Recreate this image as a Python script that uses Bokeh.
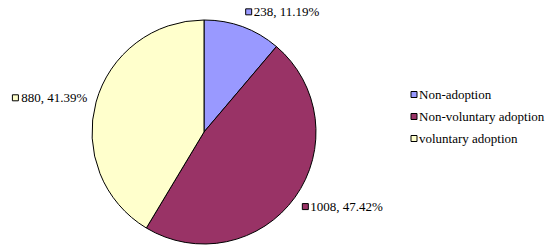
import math
from bokeh.plotting import figure
from bokeh.models import Range1d, Label
from bokeh.embed import file_html
from bokeh.resources import INLINE

categories = ["Non-adoption", "Non-voluntary adoption", "voluntary adoption"]
counts = [238, 1008, 880]
percents = [11.19, 47.42, 41.39]
colors = ["#9999FF", "#993366", "#FFFFCC"]

W, H = 550, 251
FONT = "Liberation Serif"
FSIZE = "13px"
p = figure(width=W, height=H, output_backend="svg", toolbar_location=None,
           x_range=Range1d(0, W), y_range=Range1d(0, H),
           x_axis_location=None, y_axis_location=None, min_border=0)
p.grid.visible = False
p.outline_line_color = None
p.background_fill_color = "white"
p.border_fill_color = "white"

cx, cy, r = 203.5, 119.5, 112
total = sum(counts)
start = math.pi / 2
starts, ends, mids = [], [], []
for c in counts:
    a = c / total * 2 * math.pi
    starts.append(start)
    ends.append(start - a)
    mids.append(start - a / 2)
    start -= a

p.wedge(x=cx, y=cy, radius=r, start_angle=starts, end_angle=ends,
        direction="clock", fill_color=colors, line_color="black", line_width=1)

# data labels (box edge placed just outside the pie along each slice's mid-angle)
rx, ry = 121, 128
sq = 6
for c, pc, col, m in zip(counts, percents, colors, mids):
    txt = f"{c}, {pc:.2f}%"
    ax = cx + rx * math.cos(m)
    ay = cy + ry * math.sin(m)
    if math.cos(m) >= 0:
        sx = ax + sq / 2
        tx = ax + sq + 2
        align = "left"
    else:
        tx = ax
        est_w = len(txt) * 6.0
        sx = ax - est_w - 3 - sq / 2
        align = "right"
    p.add_layout(Label(x=tx, y=ay, text=txt, text_font=FONT, text_font_size=FSIZE,
                       text_align=align, text_baseline="middle", text_color="black"))
    p.scatter(x=[sx], y=[ay], marker="square", size=sq, fill_color=col,
              line_color="black", line_width=1)

# legend
lx, ly0, dy = 413.5, 157, 22
ys = [ly0 - i * dy for i in range(len(categories))]
p.scatter(x=[lx] * len(categories), y=ys, marker="square", size=sq, fill_color=colors,
          line_color="black", line_width=1)
for name, yy in zip(categories, ys):
    p.add_layout(Label(x=lx + 5, y=yy, text=name, text_font=FONT,
                       text_font_size=FSIZE, text_align="left", text_baseline="middle",
                       text_color="black"))

open("out.html", "w").write(file_html(p, INLINE))
